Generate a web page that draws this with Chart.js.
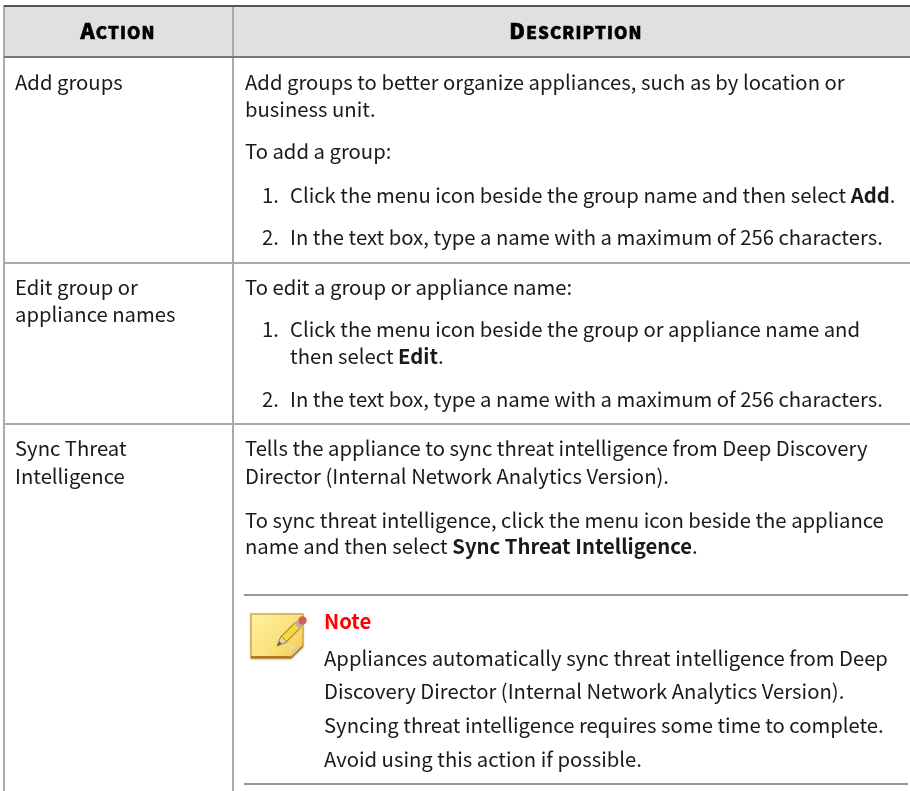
<!DOCTYPE html>
<html>
<head>
<meta charset="utf-8">
<script src="https://cdn.jsdelivr.net/npm/chart.js@4/dist/chart.umd.min.js"></script>
<style>
  body { margin: 0; background: #fff; }
  canvas { display: block; }
</style>
</head>
<body>
<canvas id="chart" width="910" height="791"></canvas>
<script>
// table text, **x** marks a bold run
const headers = ['Action', 'Description'];
const actionLines = ['Add groups', 'Edit group or', 'appliance names', 'Sync Threat', 'Intelligence'];
const descriptionLines = [
  'Add groups to better organize appliances, such as by location or',
  'business unit.',
  'To add a group:',
  'To edit a group or appliance name:',
  'Tells the appliance to sync threat intelligence from Deep Discovery',
  'Director (Internal Network Analytics Version).',
  'To sync threat intelligence, click the menu icon beside the appliance',
  'name and then select **Sync Threat Intelligence**.'
];
const stepNumbers = ['1.', '2.', '1.', '2.'];
const stepLines = [
  'Click the menu icon beside the group name and then select **Add**.',
  'In the text box, type a name with a maximum of 256 characters.',
  'Click the menu icon beside the group or appliance name and',
  'then select **Edit**.',
  'In the text box, type a name with a maximum of 256 characters.'
];
const noteTitle = 'Note';
const noteLines = [
  'Appliances automatically sync threat intelligence from Deep',
  'Discovery Director (Internal Network Analytics Version).',
  'Syncing threat intelligence requires some time to complete.',
  'Avoid using this action if possible.'
];

// layout, in scale units (1 unit = 1px)
const actionY = [90, 295, 322, 456, 484];
const descY = [90, 117, 159, 295, 456, 484, 528, 554];
const numberY = [203, 245, 337, 407];
const stepY = [203, 245, 337, 364, 407];
const noteY = [666, 699, 733, 767];
const BODY = 20.28;
const FONT = '"Noto Sans CJK SC", "Noto Sans", sans-serif';

function seg(x1, y1, x2, y2, color, width) {
  return {
    data: [{ x: x1, y: y1 }, { x: x2, y: y2 }],
    showLine: true, pointRadius: 0, borderColor: color, borderWidth: width
  };
}

function drawRuns(ctx, str, x, y, size) {
  str.split('**').forEach((run, i) => {
    ctx.font = (i % 2 ? '700 ' : '400 ') + size + 'px ' + FONT;
    ctx.fillText(run, x, y);
    x += ctx.measureText(run).width;
  });
}

function drawHeader(ctx, label, cx, y) {
  const big = label[0].toUpperCase();
  const rest = label.slice(1).toUpperCase();
  ctx.letterSpacing = '1.1px';
  ctx.font = '900 21.5px ' + FONT;
  const w1 = ctx.measureText(big).width;
  ctx.font = '900 17px ' + FONT;
  const w2 = ctx.measureText(rest).width;
  const x0 = cx - (w1 + w2) / 2;
  ctx.strokeStyle = '#000';
  ctx.lineWidth = 0.6;
  ctx.font = '900 21.5px ' + FONT;
  ctx.fillText(big, x0, y);
  ctx.strokeText(big, x0, y);
  ctx.font = '900 17px ' + FONT;
  ctx.fillText(rest, x0 + w1, y);
  ctx.strokeText(rest, x0 + w1, y);
  ctx.letterSpacing = '0px';
}

function drawNoteIcon(ctx, x, y) {
  ctx.save();
  ctx.translate(x, y);
  const g = ctx.createLinearGradient(0, 0, 52, 44);
  g.addColorStop(0, '#fdf2a0');
  g.addColorStop(0.55, '#fbe27c');
  g.addColorStop(1, '#f2c653');
  ctx.shadowColor = 'rgba(0,0,0,0.35)';
  ctx.shadowBlur = 3;
  ctx.shadowOffsetY = 1;
  ctx.beginPath();
  ctx.moveTo(0, 0); ctx.lineTo(52, 0); ctx.lineTo(52, 32); ctx.lineTo(40, 44); ctx.lineTo(0, 44);
  ctx.closePath();
  ctx.fillStyle = g;
  ctx.fill();
  ctx.shadowColor = 'transparent';
  ctx.strokeStyle = '#d2a642';
  ctx.lineWidth = 1.5;
  ctx.stroke();
  ctx.fillStyle = '#a9782a';
  ctx.fillRect(0, 42, 40, 2.5);
  // folded corner
  ctx.beginPath();
  ctx.moveTo(52, 32); ctx.lineTo(40, 44); ctx.lineTo(39, 32); ctx.closePath();
  const fold = ctx.createLinearGradient(39, 32, 46, 40);
  fold.addColorStop(0, '#f7e6a6');
  fold.addColorStop(1, '#dcb860');
  ctx.fillStyle = fold;
  ctx.fill();
  ctx.strokeStyle = '#a9782a';
  ctx.lineWidth = 1.5;
  ctx.beginPath(); ctx.moveTo(52, 32); ctx.lineTo(40, 44); ctx.stroke();
  // pencil body
  ctx.lineCap = 'butt';
  ctx.strokeStyle = '#a58433';
  ctx.lineWidth = 8.5;
  ctx.beginPath(); ctx.moveTo(33, 25); ctx.lineTo(47, 11); ctx.stroke();
  ctx.strokeStyle = '#f5d73f';
  ctx.lineWidth = 6.5;
  ctx.beginPath(); ctx.moveTo(33, 25); ctx.lineTo(47, 11); ctx.stroke();
  // sharpened wood and lead
  ctx.beginPath();
  ctx.moveTo(30, 22); ctx.lineTo(36, 28); ctx.lineTo(26, 32); ctx.closePath();
  ctx.fillStyle = '#e6d8aa';
  ctx.fill();
  ctx.strokeStyle = '#8d8068';
  ctx.lineWidth = 1;
  ctx.stroke();
  ctx.beginPath();
  ctx.moveTo(28.5, 27.5); ctx.lineTo(30.5, 29.5); ctx.lineTo(26, 32); ctx.closePath();
  ctx.fillStyle = '#55504a';
  ctx.fill();
  // ferrule and eraser
  ctx.strokeStyle = '#b5b0a4';
  ctx.lineWidth = 8;
  ctx.beginPath(); ctx.moveTo(46, 12); ctx.lineTo(49, 9); ctx.stroke();
  ctx.fillStyle = '#d2605a';
  ctx.beginPath(); ctx.arc(51.5, 6.5, 4.2, 0, Math.PI * 2); ctx.fill();
  ctx.restore();
}

// paints the header band under the rules
const headerBand = {
  id: 'headerBand',
  beforeDatasetsDraw(chart) {
    const { ctx, scales: { x, y } } = chart;
    ctx.fillStyle = '#e0e0e0';
    ctx.fillRect(x.getPixelForValue(5), y.getPixelForValue(6), x.getPixelForValue(910) - x.getPixelForValue(5), y.getPixelForValue(57) - y.getPixelForValue(6));
  }
};

const tableText = {
  id: 'tableText',
  afterDatasetsDraw(chart) {
    const { ctx, scales: { x, y } } = chart;
    const px = v => x.getPixelForValue(v);
    const py = v => y.getPixelForValue(v);
    ctx.save();
    ctx.textBaseline = 'alphabetic';
    ctx.fillStyle = '#000';
    drawHeader(ctx, headers[0], px(118), py(39));
    drawHeader(ctx, headers[1], px(576), py(39));
    ctx.fillStyle = '#1a1a1a';
    actionLines.forEach((t, i) => drawRuns(ctx, t, px(15), py(actionY[i]), BODY));
    descriptionLines.forEach((t, i) => drawRuns(ctx, t, px(245), py(descY[i]), BODY));
    stepNumbers.forEach((t, i) => drawRuns(ctx, t, px(262), py(numberY[i]), BODY));
    stepLines.forEach((t, i) => drawRuns(ctx, t, px(290), py(stepY[i]), BODY));
    ctx.fillStyle = '#f00';
    ctx.font = '700 ' + BODY + 'px ' + FONT;
    ctx.fillText(noteTitle, px(324), py(629));
    ctx.fillStyle = '#1a1a1a';
    noteLines.forEach((t, i) => drawRuns(ctx, t, px(324), py(noteY[i]), BODY));
    drawNoteIcon(ctx, px(251), py(614));
    ctx.restore();
  }
};

new Chart(document.getElementById('chart'), {
  type: 'scatter',
  data: {
    datasets: [
      seg(4, 6, 910, 6, '#555555', 2),
      seg(4, 57, 910, 57, '#777777', 2),
      seg(4, 5, 4, 791, '#aaaaaa', 2),
      seg(233, 6, 233, 791, '#aaaaaa', 2),
      seg(4, 263, 910, 263, '#aaaaaa', 2),
      seg(4, 424, 910, 424, '#aaaaaa', 2),
      seg(244, 595, 908, 595, '#333333', 1),
      seg(244, 784, 908, 784, '#333333', 1)
    ]
  },
  options: {
    responsive: false,
    animation: false,
    layout: { padding: 0 },
    plugins: { legend: { display: false }, tooltip: { enabled: false } },
    scales: {
      x: { display: false, type: 'linear', min: 0, max: 910 },
      y: { display: false, type: 'linear', min: 0, max: 791, reverse: true }
    }
  },
  plugins: [headerBand, tableText]
});
</script>
</body>
</html>
